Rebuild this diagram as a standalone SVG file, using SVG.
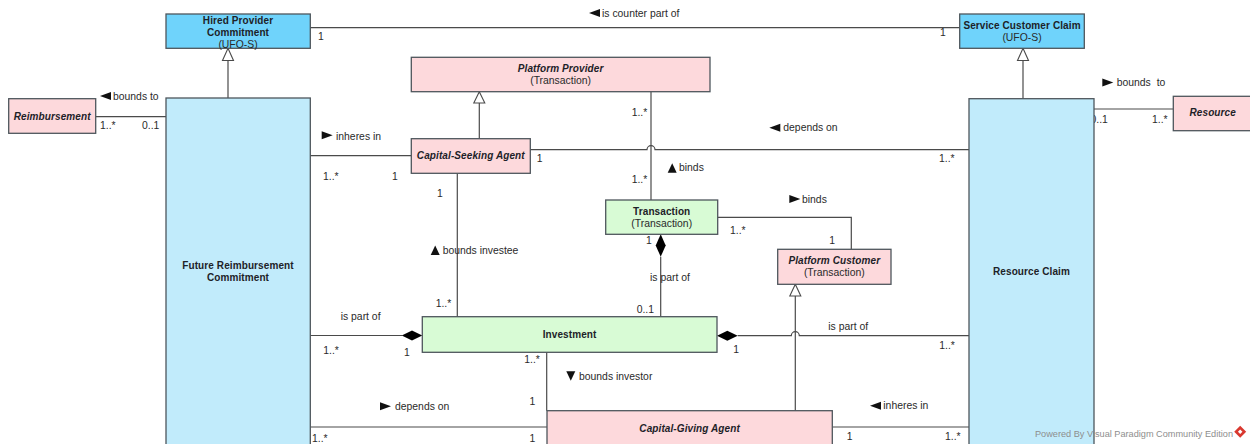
<svg xmlns="http://www.w3.org/2000/svg" xmlns:xlink="http://www.w3.org/1999/xlink" width="1250" height="444" viewBox="0 0 1250 444">
  <style>
    .bg { fill: #ffffff; }
    .node { stroke: #4e565c; stroke-width: 1.3; }
    .ufo { fill: #6fd3fb; }
    .claim { fill: #c1ebfb; }
    .role { fill: #fdd9dc; }
    .tx { fill: #d8fbd5; }
    .edge { fill: none; stroke: #4a4a4a; stroke-width: 1.2; }
    .gen { fill: #ffffff; stroke: #4a4a4a; stroke-width: 1.1; }
    .comp { fill: #000000; }
    .dir { fill: #111111; }
    .name { font-family: "Liberation Sans", Arial, sans-serif; font-size: 10px; font-weight: bold; fill: #1d2228; text-anchor: middle; letter-spacing: 0.1px; }
    .it { font-style: italic; }
    .sub { font-family: "Liberation Sans", Arial, sans-serif; font-size: 10.4px; fill: #2a2a2a; text-anchor: middle; }
    .lbl { font-family: "Liberation Sans", Arial, sans-serif; font-size: 10.4px; fill: #2a2a2a; }
    .wm { font-family: "Liberation Sans", Arial, sans-serif; font-size: 9.6px; fill: #8e8e8e; }
  </style>
  <defs>
    <path id="dirL" d="M0,0 L11,-4 L11,4 Z"/>
    <path id="dirR" d="M0,-4 L11,0 L0,4 Z"/>
    <path id="dirU" d="M0,0 L4.5,9.5 L-4.5,9.5 Z"/>
    <path id="dirD" d="M-4.5,0 L4.5,0 L0,9.5 Z"/>
  </defs>

  <rect class="bg" x="0" y="0" width="1250" height="444"/>

  <g id="connectors">
    <!-- is counter part of -->
    <line class="edge" x1="310" y1="27.7" x2="960" y2="27.7"/>
    <use class="dir" xlink:href="#dirL" href="#dirL" x="589" y="13"/>
    <text class="lbl" x="602" y="16.5">is counter part of</text>
    <text class="lbl" x="318" y="40">1</text>
    <text class="lbl" x="940" y="36">1</text>

    <!-- generalizations -->
    <line class="edge" x1="228" y1="60.5" x2="228" y2="98"/>
    <path class="gen" d="M228,48.3 L233.5,60.5 L222.5,60.5 Z"/>
    <line class="edge" x1="479.3" y1="103" x2="479.3" y2="138.7"/>
    <path class="gen" d="M479.3,91.7 L484.8,103 L473.8,103 Z"/>
    <line class="edge" x1="1023" y1="60.5" x2="1023" y2="98.7"/>
    <path class="gen" d="M1023,48.3 L1028.5,60.5 L1017.5,60.5 Z"/>
    <line class="edge" x1="795.3" y1="296" x2="795.3" y2="410.7"/>
    <path class="gen" d="M795.3,284.3 L800.8,296 L789.8,296 Z"/>

    <!-- Reimbursement bounds to -->
    <line class="edge" x1="96" y1="116.7" x2="166" y2="116.7"/>
    <use class="dir" xlink:href="#dirL" href="#dirL" x="100" y="96"/>
    <text class="lbl" x="113" y="99.5">bounds to</text>
    <text class="lbl" x="100" y="129">1..*</text>
    <text class="lbl" x="142" y="129">0..1</text>

    <!-- inheres in (commitment to seeking agent) -->
    <line class="edge" x1="310" y1="155.7" x2="411" y2="155.7"/>
    <use class="dir" xlink:href="#dirR" href="#dirR" x="321.7" y="135.2"/>
    <text class="lbl" x="336" y="139.5">inheres in</text>
    <text class="lbl" x="323" y="180">1..*</text>
    <text class="lbl" x="392" y="180">1</text>

    <!-- depends on (seeking agent to claim), hops over binds -->
    <path class="edge" d="M530,149.7 H647 a4,4 0 0 1 8,0 H969"/>
    <use class="dir" xlink:href="#dirL" href="#dirL" x="769.3" y="127.7"/>
    <text class="lbl" x="783.3" y="131">depends on</text>
    <text class="lbl" x="536.7" y="161.5">1</text>
    <text class="lbl" x="939" y="161.5">1..*</text>

    <!-- binds (provider to transaction) -->
    <line class="edge" x1="651" y1="91.7" x2="651" y2="200"/>
    <text class="lbl" x="631.7" y="116">1..*</text>
    <text class="lbl" x="631.7" y="183">1..*</text>
    <use class="dir" xlink:href="#dirU" href="#dirU" x="672.2" y="163.3"/>
    <text class="lbl" x="679" y="171">binds</text>

    <!-- Resource bounds to -->
    <line class="edge" x1="1094" y1="109" x2="1173.3" y2="109"/>
    <use class="dir" xlink:href="#dirR" href="#dirR" x="1102.3" y="82.4"/>
    <text class="lbl" x="1116.7" y="86" word-spacing="3">bounds to</text>
    <text class="lbl" x="1090.5" y="123">0..1</text>
    <text class="lbl" x="1152" y="123">1..*</text>

    <!-- bounds investee -->
    <line class="edge" x1="457.3" y1="173.3" x2="457.3" y2="316.7"/>
    <text class="lbl" x="437" y="197">1</text>
    <use class="dir" xlink:href="#dirU" href="#dirU" x="435.2" y="245.5"/>
    <text class="lbl" x="442.7" y="254">bounds investee</text>
    <text class="lbl" x="435.7" y="307">1..*</text>

    <!-- binds (transaction to customer) -->
    <path class="edge" d="M717.7,217.3 H851.3 V249.3"/>
    <use class="dir" xlink:href="#dirR" href="#dirR" x="789.3" y="199"/>
    <text class="lbl" x="802" y="202.5">binds</text>
    <text class="lbl" x="730" y="234">1..*</text>
    <text class="lbl" x="829.3" y="243.5">1</text>

    <!-- investment is part of transaction -->
    <line class="edge" x1="660.7" y1="256.7" x2="660.7" y2="316.7"/>
    <path class="comp" d="M660.7,234.3 L665.7,245.5 L660.7,256.7 L655.7,245.5 Z"/>
    <text class="lbl" x="646" y="243.5">1</text>
    <text class="lbl" x="650" y="280.5">is part of</text>
    <text class="lbl" x="636.7" y="313">0..1</text>

    <!-- commitment is part of investment -->
    <line class="edge" x1="310" y1="335.5" x2="402" y2="335.5"/>
    <path class="comp" d="M422.3,335.5 L412,330.5 L401.7,335.5 L412,340.5 Z"/>
    <text class="lbl" x="340.7" y="319.5">is part of</text>
    <text class="lbl" x="323.3" y="353.5">1..*</text>
    <text class="lbl" x="404" y="356">1</text>

    <!-- claim is part of investment, hops over generalization -->
    <path class="edge" d="M737.7,335.7 H791.3 a4,4 0 0 1 8,0 H969"/>
    <path class="comp" d="M717,335.7 L727.3,330.7 L737.7,335.7 L727.3,340.7 Z"/>
    <text class="lbl" x="733.3" y="353">1</text>
    <text class="lbl" x="828.3" y="329.5">is part of</text>
    <text class="lbl" x="939.3" y="348.5">1..*</text>

    <!-- bounds investor -->
    <line class="edge" x1="546.7" y1="352.3" x2="546.7" y2="410.7"/>
    <text class="lbl" x="524.3" y="362.5">1..*</text>
    <use class="dir" xlink:href="#dirD" href="#dirD" x="570.8" y="371.3"/>
    <text class="lbl" x="579" y="380">bounds investor</text>
    <text class="lbl" x="529.5" y="405">1</text>

    <!-- depends on (commitment to giving agent) -->
    <line class="edge" x1="310" y1="427" x2="547" y2="427"/>
    <use class="dir" xlink:href="#dirR" href="#dirR" x="380" y="406.3"/>
    <text class="lbl" x="395" y="410">depends on</text>
    <text class="lbl" x="312" y="442">1..*</text>
    <text class="lbl" x="529.5" y="442">1</text>

    <!-- inheres in (claim to giving agent) -->
    <line class="edge" x1="832.3" y1="427" x2="969" y2="427"/>
    <use class="dir" xlink:href="#dirL" href="#dirL" x="870" y="405.7"/>
    <text class="lbl" x="883.3" y="409">inheres in</text>
    <text class="lbl" x="846.7" y="439.5">1</text>
    <text class="lbl" x="945" y="439.5">1..*</text>
  </g>

  <g id="hired-provider-commitment">
    <rect class="node ufo" x="166" y="14" width="144.3" height="34.3"/>
    <text class="name" x="238" y="23.5">Hired Provider</text>
    <text class="name" x="238" y="36">Commitment</text>
    <text class="sub" x="238" y="47.5">(UFO-S)</text>
  </g>

  <g id="service-customer-claim">
    <rect class="node ufo" x="959.7" y="14" width="124.6" height="34.3"/>
    <text class="name" x="1022" y="28.5">Service Customer Claim</text>
    <text class="sub" x="1022" y="40.5">(UFO-S)</text>
  </g>

  <g id="reimbursement">
    <rect class="node role" x="8.7" y="98.7" width="87" height="34.6"/>
    <text class="name it" x="52.2" y="119.5">Reimbursement</text>
  </g>

  <g id="future-reimbursement-commitment">
    <rect class="node claim" x="166" y="98" width="144.3" height="360"/>
    <text class="name" x="238" y="268.5">Future Reimbursement</text>
    <text class="name" x="238" y="280.5">Commitment</text>
  </g>

  <g id="platform-provider">
    <rect class="node role" x="411.3" y="57.3" width="298.7" height="34.4"/>
    <text class="name it" x="560.6" y="72">Platform Provider</text>
    <text class="sub" x="560.6" y="84">(Transaction)</text>
  </g>

  <g id="capital-seeking-agent">
    <rect class="node role" x="411.3" y="138.7" width="119" height="34.6"/>
    <text class="name it" x="470.8" y="159">Capital-Seeking Agent</text>
  </g>

  <g id="transaction">
    <rect class="node tx" x="605.7" y="200" width="112" height="34.3"/>
    <text class="name" x="661.7" y="214.5">Transaction</text>
    <text class="sub" x="661.7" y="227">(Transaction)</text>
  </g>

  <g id="platform-customer">
    <rect class="node role" x="777.7" y="249.3" width="113.3" height="35"/>
    <text class="name it" x="834.3" y="264">Platform Customer</text>
    <text class="sub" x="834.3" y="275.5">(Transaction)</text>
  </g>

  <g id="investment">
    <rect class="node tx" x="422.3" y="316.7" width="294.7" height="35.6"/>
    <text class="name" x="569.6" y="338">Investment</text>
  </g>

  <g id="capital-giving-agent">
    <rect class="node role" x="547" y="410.7" width="285.3" height="50"/>
    <text class="name it" x="689.6" y="432">Capital-Giving Agent</text>
  </g>

  <g id="resource-claim">
    <rect class="node claim" x="969" y="98.7" width="125" height="360"/>
    <text class="name" x="1031.5" y="275">Resource Claim</text>
  </g>

  <g id="resource">
    <rect class="node role" x="1173.3" y="96.3" width="90" height="34.4"/>
    <text class="name it" x="1212.7" y="116">Resource</text>
  </g>

  <g id="watermark">
    <text class="wm" x="1035" y="437" textLength="198" lengthAdjust="spacingAndGlyphs">Powered By Visual Paradigm Community Edition</text>
    <rect x="1236" y="427.5" width="8.5" height="8.5" fill="#d9382f" transform="rotate(45 1240.2 431.7)"/>
    <rect x="1238.6" y="430.1" width="3.2" height="3.2" fill="#ffffff" transform="rotate(45 1240.2 431.7)"/>
  </g>
</svg>
